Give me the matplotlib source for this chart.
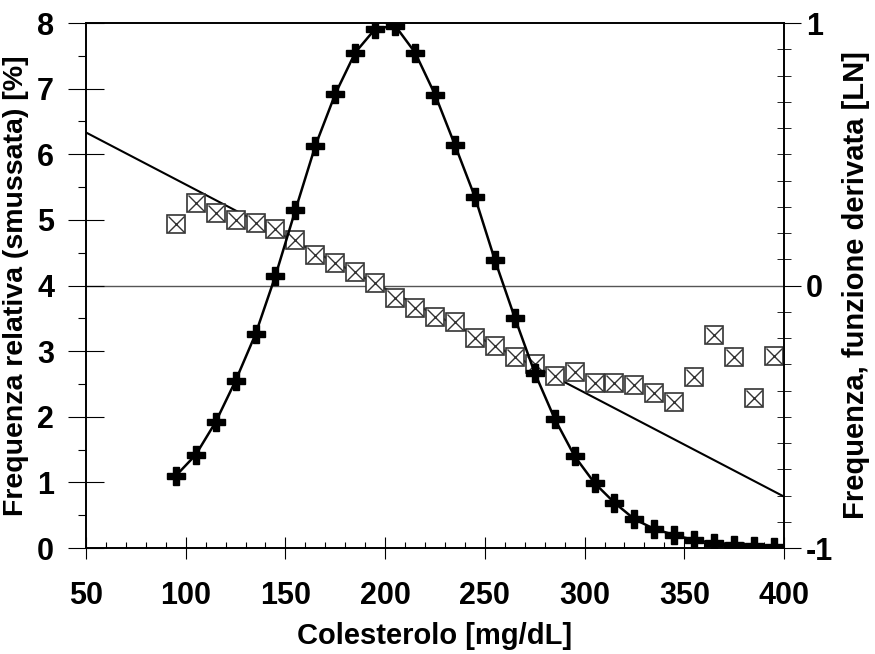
import numpy as np
import matplotlib
matplotlib.use("Agg")
import matplotlib.pyplot as plt
from matplotlib.ticker import MultipleLocator

plt.rcParams['font.family'] = ['Liberation Sans', 'DejaVu Sans']
plt.rcParams['font.weight'] = 'bold'
plt.rcParams['axes.unicode_minus'] = False

# colesterolo, classi da 10 mg/dL
chol = [95, 105, 115, 125, 135, 145, 155, 165, 175, 185, 195, 205, 215, 225, 235,
        245, 255, 265, 275, 285, 295, 305, 315, 325, 335, 345, 355, 365, 375, 385, 395]

# frequenza relativa smussata [%]
freq = [1.10, 1.42, 1.92, 2.55, 3.26, 4.15, 5.15, 6.13, 6.92, 7.55, 7.91, 7.96, 7.55,
        6.91, 6.14, 5.35, 4.39, 3.51, 2.67, 1.97, 1.40, 0.99, 0.69, 0.44, 0.29, 0.20,
        0.12, 0.08, 0.05, 0.03, 0.02]

# funzione derivata [LN]
deriv = [0.236, 0.316, 0.278, 0.248, 0.240, 0.217, 0.175, 0.118, 0.084, 0.050, 0.008,
         -0.046, -0.084, -0.118, -0.137, -0.198, -0.229, -0.274, -0.297, -0.343, -0.331,
         -0.370, -0.373, -0.377, -0.408, -0.442, -0.347, -0.190, -0.274, -0.430, -0.270]

# retta di regressione della derivata (estremi, in unita' LN)
reg_x = [50, 400]
reg_y = [0.583, -0.804]

fig = plt.figure(figsize=(8.75, 6.54), dpi=100)
ax = fig.add_axes([0.0983, 0.162, 0.7977, 0.8028])
ax2 = ax.twinx()

ax.set_xlim(50, 400)
ax.set_ylim(0, 8)
ax2.set_ylim(-1, 1)

# zero della funzione derivata
ax2.axhline(0, color='#555555', lw=1.0, zorder=1)

ax2.plot(reg_x, reg_y, color='black', lw=1.5, zorder=2)
ax2.plot(chol, deriv, ls='none', marker='s', ms=13, mfc='white', mec='#333333',
         mew=1.2, zorder=3)
ax2.plot(chol, deriv, ls='none', marker='x', ms=11, mec='#333333', mew=1.0, zorder=4)

ax.plot(chol, freq, color='black', lw=1.8, zorder=5)
ax.plot(chol, freq, ls='none', marker='P', ms=13, color='black', zorder=6)
ax.set_zorder(ax2.get_zorder() + 1)
ax.patch.set_visible(False)

ax.xaxis.set_major_locator(MultipleLocator(50))
ax.xaxis.set_minor_locator(MultipleLocator(10))
ax.yaxis.set_major_locator(MultipleLocator(1))
ax.yaxis.set_minor_locator(MultipleLocator(0.5))
ax2.yaxis.set_major_locator(MultipleLocator(1))
ax2.yaxis.set_minor_locator(MultipleLocator(0.1))

ax.tick_params(axis='x', which='major', direction='inout', length=16, width=0.8,
               labelsize=22, pad=16)
ax.tick_params(axis='x', which='minor', direction='in', length=4, width=0.8)
ax.tick_params(axis='y', which='major', direction='inout', length=26, width=0.8,
               labelsize=22, pad=10)
ax.tick_params(axis='y', which='minor', direction='out', length=6, width=0.8)
ax2.tick_params(axis='y', which='major', direction='out', length=12, width=0.8,
                labelsize=22, pad=4)
ax2.tick_params(axis='y', which='minor', direction='inout', length=10, width=0.6)

for a in (ax, ax2):
    for s in a.spines.values():
        s.set_linewidth(1.2)

ax.set_xlabel('Colesterolo [mg/dL]', fontsize=21, fontweight='bold', labelpad=8)
ax.set_ylabel('Frequenza relativa (smussata) [%]', fontsize=20.5, fontweight='bold',
              labelpad=6)
ax2.set_ylabel('Frequenza, funzione derivata [LN]', fontsize=21, fontweight='bold',
               labelpad=6)

fig.savefig('out.png', dpi=100)
